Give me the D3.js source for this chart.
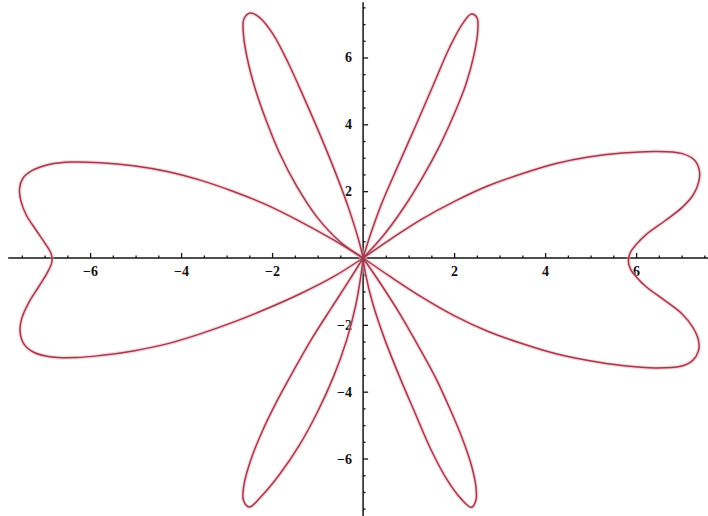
<!DOCTYPE html>
<html>
<head>
<meta charset="utf-8">
<script src="https://cdn.jsdelivr.net/npm/d3@7"></script>
<style>
  html, body { margin: 0; padding: 0; background: #ffffff; }
  svg { display: block; }
  .tick text { font-family: "Liberation Serif", "DejaVu Serif", serif; font-weight: bold; font-size: 14px; fill: #111; }
</style>
</head>
<body>
<svg id="chart" width="708" height="516"></svg>
<script>
// Labelled ticks and the half-unit minor ticks on both axes
const majorTicks = [-6, -4, -2, 2, 4, 6];
const minorTicks = [-7.5, -7, -6.5, -5.5, -5, -4.5, -3.5, -3, -2.5, -1.5, -1, -0.5,
                    0.5, 1, 1.5, 2.5, 3, 3.5, 4.5, 5, 5.5, 6.5, 7, 7.5];

// Loops of the polar curve, each one leaving and returning to the pole: [x, y]
const rightLobe = [
  [0, 0], [0.6, -0.56], [1.3, -1.18], [2.02, -1.74], [2.75, -2.20], [3.49, -2.56],
  [4.22, -2.86], [4.95, -3.07], [5.69, -3.22], [6.42, -3.29], [6.98, -3.24], [7.24, -3.07],
  [7.37, -2.78], [7.37, -2.46], [7.24, -2.06], [7.00, -1.66], [6.62, -1.26], [6.22, -0.86],
  [6.00, -0.56], [5.88, -0.34], [5.83, -0.08], [5.88, 0.18], [6.00, 0.40], [6.22, 0.70],
  [6.62, 1.10], [7.00, 1.50], [7.26, 1.90], [7.38, 2.30], [7.39, 2.62], [7.28, 2.93],
  [7.00, 3.13], [6.42, 3.19], [5.69, 3.14], [4.95, 3.02], [4.22, 2.82], [3.49, 2.52],
  [2.75, 2.16], [2.02, 1.70], [1.3, 1.17], [0.6, 0.56], [0, 0]
];
const leftLobe = [
  [0, 0], [-0.65, 0.54], [-1.38, 1.09], [-2.12, 1.59], [-2.85, 1.99], [-3.58, 2.33],
  [-4.31, 2.59], [-5.05, 2.76], [-5.78, 2.85], [-6.40, 2.87], [-6.90, 2.80], [-7.27, 2.62],
  [-7.48, 2.38], [-7.55, 2.08], [-7.52, 1.70], [-7.40, 1.28], [-7.20, 0.86], [-7.00, 0.46],
  [-6.86, 0.14], [-6.84, -0.12], [-6.94, -0.44], [-7.13, -0.86], [-7.35, -1.34],
  [-7.50, -1.80], [-7.54, -2.18], [-7.46, -2.56], [-7.24, -2.82], [-6.85, -2.96],
  [-6.30, -2.98], [-5.78, -2.92], [-5.05, -2.78], [-4.31, -2.57], [-3.58, -2.27],
  [-2.85, -1.92], [-2.12, -1.52], [-1.38, -1.07], [-0.65, -0.56], [0, 0]
];
const petalUpperRight = [
  [0, 0], [0.10, 0.45], [0.40, 1.60], [0.78, 2.80], [1.17, 4.00], [1.55, 5.20], [1.90, 6.30],
  [2.18, 7.00], [2.38, 7.30], [2.50, 7.20], [2.52, 6.80], [2.44, 6.10], [2.26, 5.20],
  [2.00, 4.30], [1.68, 3.35], [1.30, 2.40], [0.88, 1.48], [0.45, 0.68], [0, 0]
];
const petalUpperLeft = [
  [0, 0], [-0.08, 0.45], [-0.32, 1.50], [-0.62, 2.60], [-0.95, 3.70], [-1.30, 4.80],
  [-1.65, 5.85], [-1.98, 6.70], [-2.28, 7.20], [-2.48, 7.33], [-2.62, 7.15], [-2.63, 6.70],
  [-2.55, 6.00], [-2.38, 5.10], [-2.14, 4.15], [-1.84, 3.15], [-1.46, 2.15], [-1.00, 1.20],
  [-0.50, 0.48], [0, 0]
];
const petalLowerRight = [
  [0, 0], [0.05, -0.45], [0.22, -1.40], [0.48, -2.45], [0.80, -3.55], [1.13, -4.60],
  [1.48, -5.70], [1.83, -6.60], [2.15, -7.20], [2.38, -7.46], [2.48, -7.25], [2.48, -6.85],
  [2.38, -6.20], [2.18, -5.40], [1.92, -4.55], [1.60, -3.60], [1.22, -2.65], [0.82, -1.70],
  [0.40, -0.80], [0, 0]
];
const petalLowerLeft = [
  [0, 0], [-0.04, -0.45], [-0.16, -1.40], [-0.36, -2.45], [-0.65, -3.55], [-1.00, -4.60],
  [-1.40, -5.60], [-1.85, -6.50], [-2.25, -7.15], [-2.50, -7.45], [-2.63, -7.25],
  [-2.62, -6.80], [-2.47, -6.05], [-2.22, -5.20], [-1.90, -4.30], [-1.52, -3.35],
  [-1.12, -2.40], [-0.70, -1.50], [-0.32, -0.70], [0, 0]
];
const loops = [rightLobe, leftLobe, petalUpperRight, petalUpperLeft, petalLowerRight, petalLowerLeft];

const W = 708, H = 516;
const svg = d3.select("#chart");

const x = d3.scaleLinear().domain([-7.98, 7.58]).range([0, W]);
const y = d3.scaleLinear().domain([7.72, -7.72]).range([0, H]);

const axisColor = "#151515";
const fmt = d => d < 0 ? "\u2212" + Math.abs(d) : String(d);

// Axis lines through the origin
svg.append("line")
  .attr("x1", x(-7.8)).attr("x2", x(7.58))
  .attr("y1", y(0)).attr("y2", y(0))
  .attr("stroke", axisColor).attr("stroke-width", 1.5);
svg.append("line")
  .attr("x1", x(0)).attr("x2", x(0))
  .attr("y1", y(7.65)).attr("y2", y(-7.72))
  .attr("stroke", axisColor).attr("stroke-width", 1.5);

// Horizontal axis: ticks point up, labels sit below
const gx = svg.append("g").attr("transform", `translate(0,${y(0)})`);
gx.append("g")
  .call(d3.axisBottom(x).tickValues(minorTicks).tickSizeInner(-2.5).tickSizeOuter(0).tickFormat(""))
  .call(g => g.select(".domain").remove());
gx.append("g")
  .call(d3.axisBottom(x).tickValues(majorTicks).tickSizeInner(-5).tickSizeOuter(0).tickPadding(8).tickFormat(fmt))
  .call(g => g.select(".domain").remove());

// Vertical axis: ticks point right, labels sit to the left
const gy = svg.append("g").attr("transform", `translate(${x(0)},0)`);
gy.append("g")
  .call(d3.axisLeft(y).tickValues(minorTicks).tickSizeInner(-2.5).tickSizeOuter(0).tickFormat(""))
  .call(g => g.select(".domain").remove());
gy.append("g")
  .call(d3.axisLeft(y).tickValues(majorTicks).tickSizeInner(-5).tickSizeOuter(0).tickPadding(11).tickFormat(fmt))
  .call(g => g.select(".domain").remove());

svg.selectAll(".tick line").attr("stroke", axisColor).attr("stroke-width", 1.3);

// The curve: a soft pink edge under a dark red line
const line = d3.line()
  .x(d => x(d[0]))
  .y(d => y(d[1]))
  .curve(d3.curveCatmullRom.alpha(0.5));

const curve = svg.append("g").attr("fill", "none").attr("stroke-linejoin", "round").attr("stroke-linecap", "round");
curve.selectAll("path.halo")
  .data(loops)
  .join("path")
  .attr("class", "halo")
  .attr("d", line)
  .attr("stroke", "#f0a8b6")
  .attr("stroke-opacity", 0.45)
  .attr("stroke-width", 4);
curve.selectAll("path.core")
  .data(loops)
  .join("path")
  .attr("class", "core")
  .attr("d", line)
  .attr("stroke", "#9e3a4c")
  .attr("stroke-width", 1.5);
</script>
</body>
</html>
